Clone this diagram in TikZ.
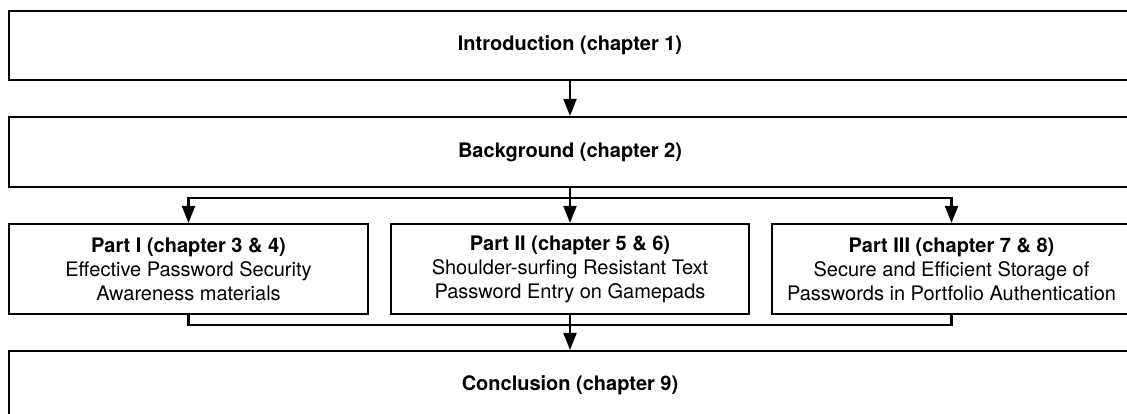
\documentclass[tikz,border=0pt]{standalone}
\usepackage{fontspec}
\setmainfont{TeX Gyre Heros}
\usetikzlibrary{arrows.meta}
\tikzset{
  box/.style={draw, line width=2.2pt, rectangle, inner sep=0pt, align=center,
    font=\fontsize{20}{24}\selectfont},
  wide/.style={box, minimum width=1122pt, minimum height=69pt},
  part/.style={box, minimum width=359pt, minimum height=90pt},
  link/.style={line width=2.2pt, line join=miter},
  arr/.style={link, -{Triangle[length=17pt,width=13pt]}}
}
\begin{document}
\begin{tikzpicture}[x=1pt,y=-1pt]
  \useasboundingbox (0,0) rectangle (1127,414);
  \clip (0,0) rectangle (1127,414);
  \fill[white] (0,0) rectangle (1127,414);

  % chapter boxes
  \node[wide] (intro) at (570,45.5) {\bfseries Introduction (chapter 1)};
  \node[wide, minimum height=70pt] (bg) at (570,152) {\bfseries Background (chapter 2)};
  \node[part] (p1) at (188.5,269) {\bfseries Part I (chapter 3 \& 4)\\Effective Password Security\\Awareness materials};
  \node[part, minimum width=358pt] (p2) at (570,269) {\bfseries Part II (chapter 5 \& 6)\\Shoulder-surfing Resistant Text\\Password Entry on Gamepads};
  \node[part] (p3) at (951.5,269) {\bfseries Part III (chapter 7 \& 8)\\Secure and Efficient Storage of\\Passwords in Portfolio Authentication};
  \node[wide] (conc) at (570,385.5) {\bfseries Conclusion (chapter 9)};

  % branching and merging points
  \coordinate (split) at (570,198);
  \coordinate (merge) at (570,325);

  % connectors
  \draw[arr] (intro.south) -- (bg.north);
  \draw[link] (bg.south) -- (split);
  \draw[arr] (split) -| (p1.north);
  \draw[arr] (split) -| (p3.north);
  \draw[arr] (split) -- (p2.north);
  \draw[link] (p1.south) |- (merge) -| (p3.south);
  \draw[arr] (p2.south) -- (conc.north);
\end{tikzpicture}
\end{document}
